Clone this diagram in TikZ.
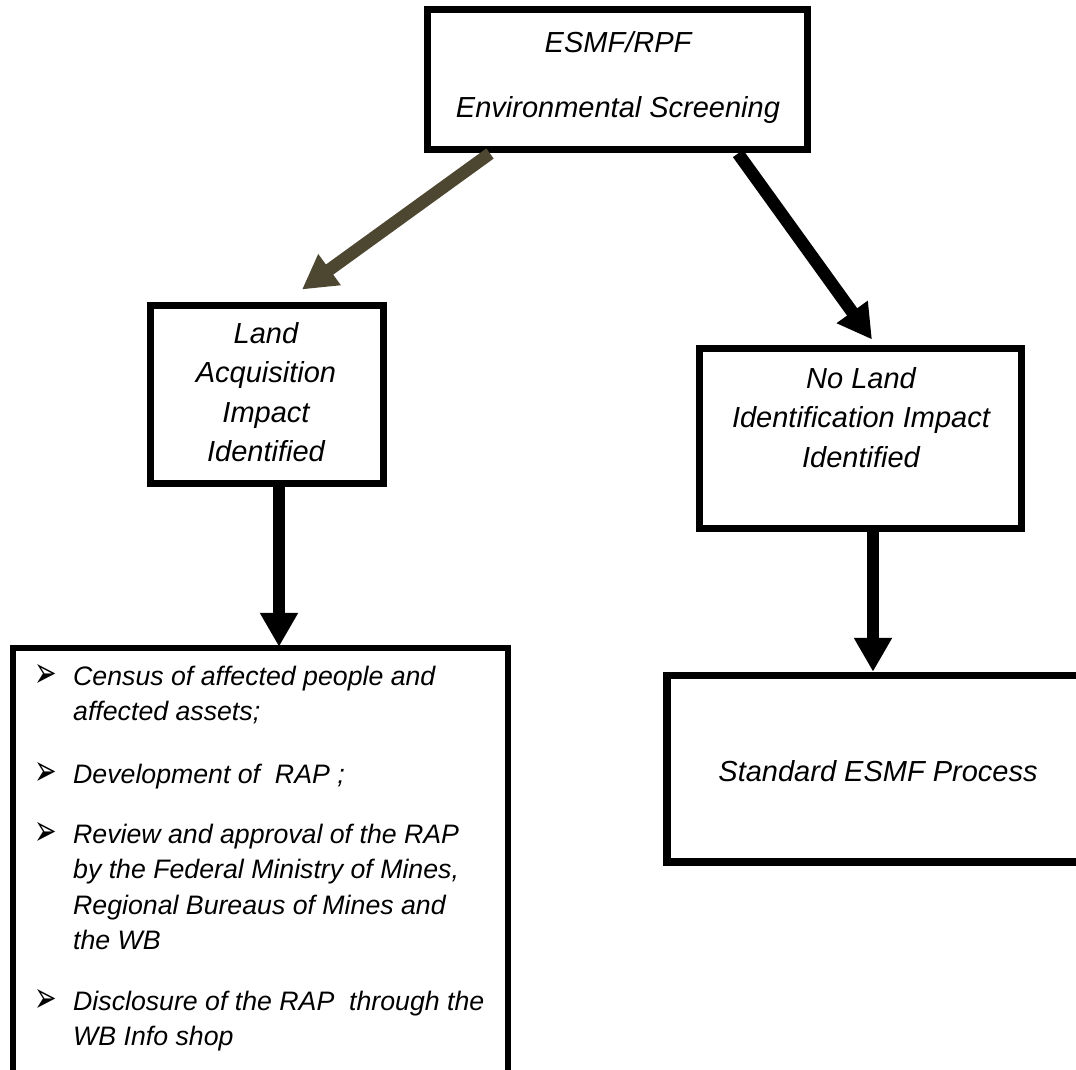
\documentclass[tikz,border=0pt]{standalone}
\usepackage{fontspec}
\usepackage{graphicx}
\setmainfont{Liberation Sans}
\newfontfamily\dejavu{DejaVu Sans}
\usetikzlibrary{arrows.meta}
\definecolor{olivearrow}{HTML}{4D4731}
\begin{document}
\begin{tikzpicture}[x=1pt,y=-1pt,
  box/.style={draw=black, rectangle, inner sep=0pt},
  big/.style={font=\fontsize{29}{39.5}\selectfont\itshape, inner sep=0pt, align=center},
  listtext/.style={font=\fontsize{26.7}{35.5}\selectfont\itshape, inner sep=0pt, align=left, anchor=north west},
  bul/.style={font=\dejavu\fontsize{27}{27}\selectfont, inner sep=0pt},
  fat/.style={line width=12.5pt, -{Triangle[length=34pt,width=36pt]}},
]
\useasboundingbox (0,0) rectangle (1076,1070);
\fill[white] (0,0) rectangle (1076,1070);
\clip (0,0) rectangle (1076,1070);

% boxes
\node[box, line width=7pt, minimum width=380pt, minimum height=140pt] (top) at (617,80) {};
\node[box, line width=7pt, minimum width=233pt, minimum height=178pt] (land) at (266.5,394) {};
\node[box, line width=7pt, minimum width=322pt, minimum height=180pt] (noland) at (860,438) {};
\node[box, line width=6.5pt, minimum width=495pt, minimum height=425pt] (rap) at (260.5,860.5) {};
\node[box, line width=7.5pt, minimum width=423pt, minimum height=186.5pt] (std) at (878.5,768.75) {};

% texts
\node[big, font=\fontsize{29}{65}\selectfont\itshape, anchor=north] (toptext) at (618,31) {ESMF/RPF\\Environmental Screening};
\node[big, anchor=north] (landtext) at (266,322) {Land\\Acquisition\\Impact\\Identified};
\node[big, anchor=north] (nolandtext) at (861,367) {No Land\\Identification Impact\\Identified};
\node[big, anchor=base] (stdtext) at (878,781) {Standard ESMF Process};

\node[bul] (b1) at (45.5,676) {\scalebox{1}[1.6]{➢}};
\node[bul] (b2) at (45.5,774) {\scalebox{1}[1.6]{➢}};
\node[bul] (b3) at (45.5,834) {\scalebox{1}[1.6]{➢}};
\node[bul] (b4) at (45.5,1001) {\scalebox{1}[1.6]{➢}};
\node[listtext] (i1) at (73,665.5) {Census of affected people and\\affected assets;};
\node[listtext] (i2) at (73,763.5) {Development of\ \ RAP ;};
\node[listtext] (i3) at (73,823.5) {Review and approval of the RAP\\by the Federal Ministry of Mines,\\Regional Bureaus of Mines and\\the WB};
\node[listtext] (i4) at (73,990.5) {Disclosure of the RAP\ \ through the\\WB Info shop};

% arrows
\draw[fat, draw=olivearrow] ([xshift=-127pt]top.south) -- ([xshift=35.5pt,yshift=12pt]land.north);
\draw[fat, draw=black] ([xshift=121pt]top.south) -- ([xshift=12pt,yshift=5pt]noland.north);
\draw[fat, line width=12pt] ([xshift=12.5pt]land.south) -- ([xshift=18.5pt,yshift=-2pt]rap.north);
\draw[fat, line width=12pt] ([xshift=13pt]noland.south) -- ([xshift=-5.5pt]std.north);
\end{tikzpicture}
\end{document}
